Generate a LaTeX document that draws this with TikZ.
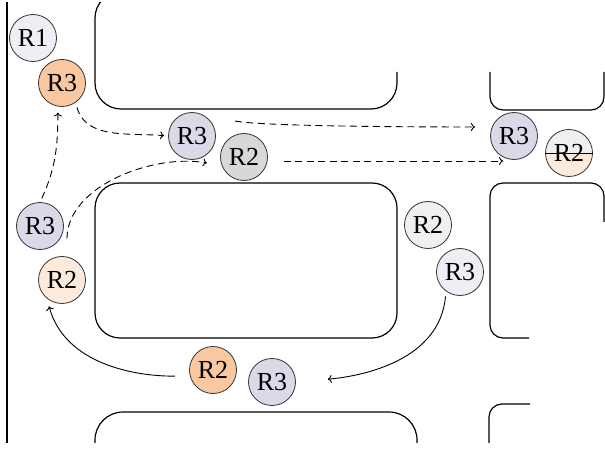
\documentclass[tikz,border=0pt]{standalone}
\usepackage{fontspec}
\setmainfont{Liberation Serif}
\usetikzlibrary{arrows.meta}
\definecolor{rorange}{HTML}{F9C8A0}
\definecolor{rlorange}{HTML}{FCEBDD}
\definecolor{rlav}{HTML}{DCD8E8}
\definecolor{rllav}{HTML}{EEEEF4}
\definecolor{rgray}{HTML}{D8D8D8}
\definecolor{rlgray}{HTML}{F0F0F0}
\tikzset{
	robot/.style={circle, draw=black!80, line width=0.8pt, minimum size=47pt, inner sep=0pt, font=\fontsize{26}{30}\selectfont},
	block/.style={line width=1.2pt},
	move/.style={line width=0.9pt, -{To[length=4pt,width=8pt]}},
	plan/.style={move, dash pattern=on 7pt off 4.5pt}
}
\begin{document}
\begin{tikzpicture}[x=1pt,y=1pt]
	\useasboundingbox (0,0) rectangle (605,450);
	\clip (0,8) rectangle (605,447);
	% street map
	\draw[line width=1.6pt] (7,-10) -- (7,460);
	\draw[block, rounded corners=26pt] (397,378) -- (397,341) -- (95,341) -- (95,458) -- (300,458);
	\draw[block, rounded corners=13pt] (490,378) -- (490,340) -- (604,340) -- (604,378);
	\draw[block, rounded corners=25pt] (95,112) rectangle (397,267);
	\draw[block, rounded corners=13pt] (529,112) -- (490,112) -- (490,267) -- (604,267) -- (604,228);
	\draw[block, rounded corners=28pt] (95,-10) -- (95,38) -- (417,38) -- (417,-10);
	\draw[block, rounded corners=13pt] (530,46) -- (489,46) -- (489,-10);
	% robots
	\node[robot, fill=rllav] (R1) at (33,412) {R1};
	\node[robot, fill=rorange] (R3o) at (62,367) {R3};
	\node[robot, fill=rlav] (R3a) at (192,314) {R3};
	\node[robot, fill=rgray] (R2g) at (244,293) {R2};
	\node[robot, fill=rlav] (R3b) at (514,314) {R3};
	\node[robot, fill=rlorange, path picture={\fill[rlgray] (path picture bounding box.north west) rectangle (path picture bounding box.east);}] (R2s) at (569,297) {R2};
	\draw[line width=0.8pt] (R2s.west) -- (R2s.east);
	\node[robot, fill=rlav] (R3l) at (40,224) {R3};
	\node[robot, fill=rlorange] (R2l) at (62,170) {R2};
	\node[robot, fill=rlgray] (R2r) at (428,225) {R2};
	\node[robot, fill=rllav] (R3r) at (460,178) {R3};
	\node[robot, fill=rorange] (R2o) at (213,80) {R2};
	\node[robot, fill=rlav] (R3c) at (272,68) {R3};
	% planned moves
	\draw[plan, shorten <=4pt, shorten >=6pt] (R3l.north) to[out=65,in=-90] (R3o.-100);
	\draw[plan, shorten <=5pt, shorten >=4pt] (R3o.-55) to[out=-75,in=175] (R3a.west);
	\draw[plan] ([shift={(43pt,15pt)}]R3a.center) to[out=-12,in=180,looseness=0.3] ([shift={(-39pt,9pt)}]R3b.center);
	\draw[plan, shorten <=18pt, shorten >=15pt] (R2l.78) to[out=90,in=170] (R2g.201);
	\draw[plan, shorten <=16pt, shorten >=42pt] ([yshift=-4pt]R2g.east) -- ([yshift=-4pt]R2g.east -| R2s.west);
	% executed moves
	\draw[move, shorten <=5pt, shorten >=32pt] (R3r.234) to[out=-95,in=5] (R3c.east);
	\draw[move, shorten <=15pt, shorten >=8pt] (R2o.195) to[out=180,in=-75] (R2l.231);
\end{tikzpicture}
\end{document}
